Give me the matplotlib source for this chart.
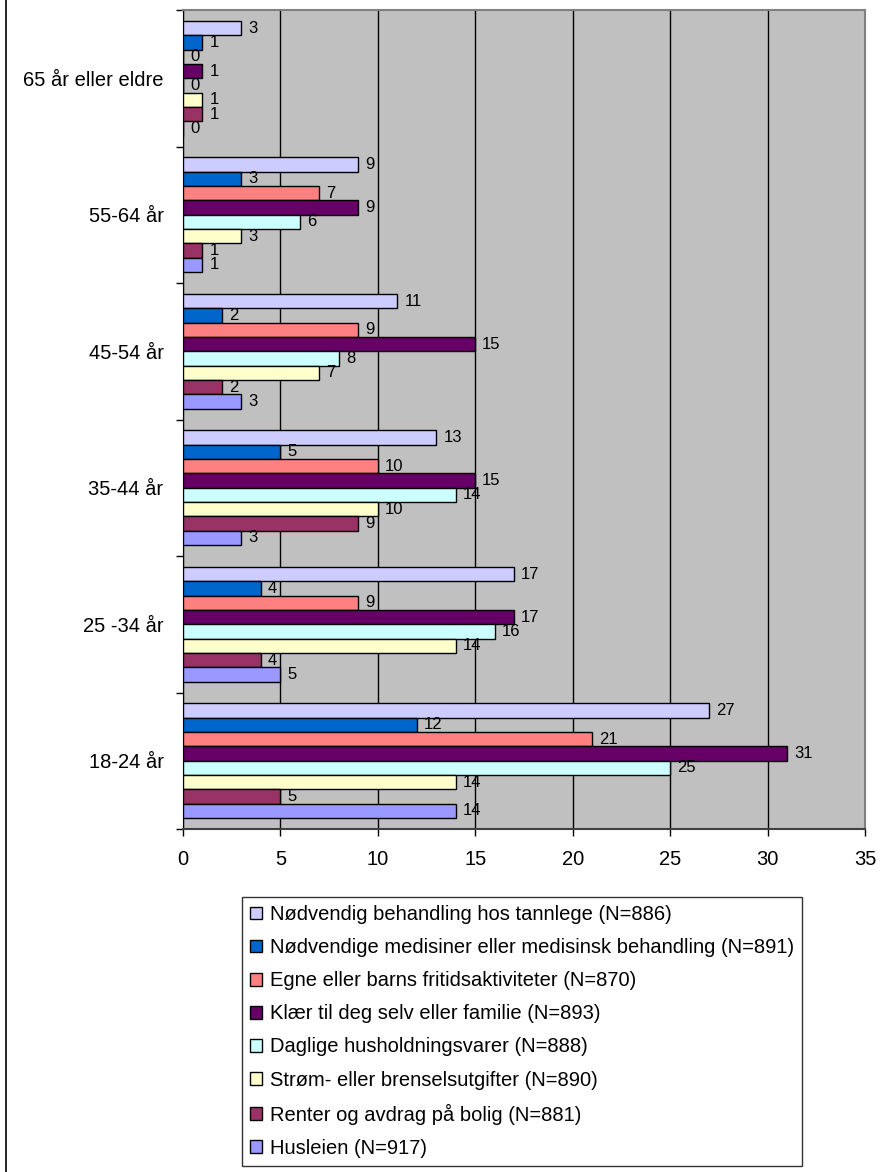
import matplotlib.pyplot as plt
import numpy as np
from matplotlib.lines import Line2D

plt.rcParams['font.family'] = ['Liberation Sans', 'DejaVu Sans']

# aldersgrupper, nederst først
grupper = ['18-24 år', '25 -34 år', '35-44 år', '45-54 år', '55-64 år', '65 år eller eldre']

serier = [
    'Nødvendig behandling hos tannlege (N=886)',
    'Nødvendige medisiner eller medisinsk behandling (N=891)',
    'Egne eller barns fritidsaktiviteter (N=870)',
    'Klær til deg selv eller familie (N=893)',
    'Daglige husholdningsvarer (N=888)',
    'Strøm- eller brenselsutgifter (N=890)',
    'Renter og avdrag på bolig (N=881)',
    'Husleien (N=917)',
]
farger = ['#CCCCFF', '#0066CC', '#FF8080', '#660066',
          '#CCFFFF', '#FFFFCC', '#993366', '#9999FF']

# prosent per serie, i samme rekkefølge som grupper
tannlege = [27, 17, 13, 11, 9, 3]
medisiner = [12, 4, 5, 2, 3, 1]
fritid = [21, 9, 10, 9, 7, 0]
klaer = [31, 17, 15, 15, 9, 1]
husholdning = [25, 16, 14, 8, 6, 0]
strom = [14, 14, 10, 7, 3, 1]
renter = [5, 4, 9, 2, 1, 1]
husleie = [14, 5, 3, 3, 1, 0]
verdier = [tannlege, medisiner, fritid, klaer, husholdning, strom, renter, husleie]

fig = plt.figure(figsize=(8.82, 11.72), dpi=100)
ax = fig.add_axes([183 / 882, 1 - 829 / 1172, 682 / 882, 819 / 1172])
ax.set_facecolor('#C0C0C0')

y = np.arange(len(grupper))
h = 0.105
for i, (navn, farge, v) in enumerate(zip(serier, farger, verdier)):
    pos = y + (3.5 - i) * h
    ax.barh(pos, v, height=h, color=farge, edgecolor='black', linewidth=1,
            label=navn, zorder=3)
    for p, val in zip(pos, v):
        ax.annotate(str(val), (val, p), xytext=(5, 0), textcoords='offset points',
                    ha='left', va='center', fontsize=12, zorder=4)

ax.set_xlim(0, 35)
ax.set_ylim(-0.5, 5.5)
ax.set_xticks(np.arange(0, 36, 5))
ax.tick_params(axis='x', direction='out', length=5, width=1, pad=10, labelsize=14.5)
ax.xaxis.grid(True, color='black', linewidth=1, zorder=1)

ax.set_yticks(np.arange(-0.5, 5.6, 1))
ax.set_yticklabels([])
ax.set_yticks(y, minor=True)
ax.set_yticklabels(grupper, minor=True, fontsize=14.5)
ax.tick_params(axis='y', which='major', direction='out', length=5, width=1)
ax.tick_params(axis='y', which='minor', length=0, pad=14)

ax.spines['left'].set_color('black')
ax.spines['bottom'].set_color('#404040')
ax.spines['bottom'].set_linewidth(1.5)
ax.spines['top'].set_color('#808080')
ax.spines['right'].set_color('#808080')
ax.spines['top'].set_linewidth(1.5)
ax.spines['right'].set_linewidth(1.5)

leg = fig.legend(loc='upper left', bbox_to_anchor=(242 / 882, 1 - 897 / 1172),
                 fontsize=14.5, frameon=True, fancybox=False, edgecolor='black',
                 handlelength=0.6, handleheight=0.6, handletextpad=0.4,
                 labelspacing=0.7, borderpad=0.4, borderaxespad=0)
leg.get_frame().set_linewidth(1)

fig.add_artist(Line2D([6 / 882, 6 / 882], [0, 1], color='black', linewidth=1.2,
                      transform=fig.transFigure))

fig.savefig('out.png', dpi=100)
